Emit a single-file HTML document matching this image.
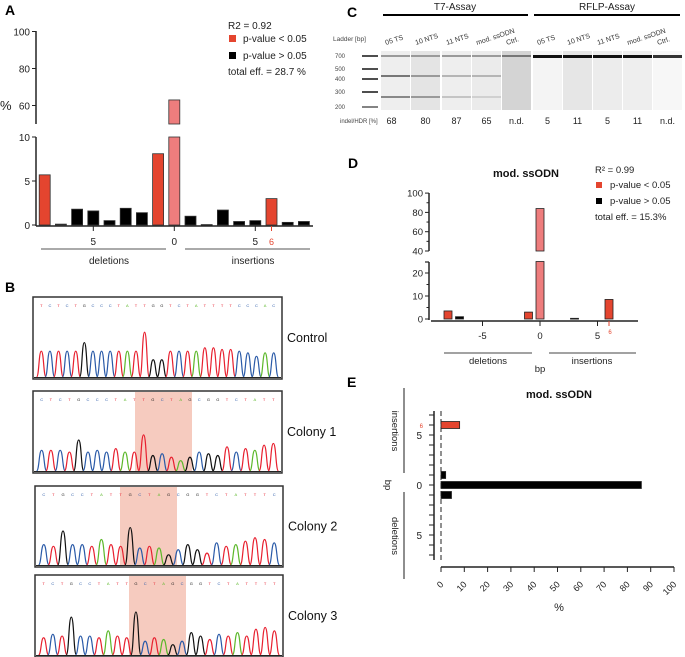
<!DOCTYPE html>
<html><head><meta charset="utf-8"><style>
body{margin:0;background:#fff}
svg{font-family:"Liberation Sans",Arial,sans-serif;display:block}
</style></head><body>
<svg id="s" width="685" height="657" viewBox="0 0 685 657" xmlns="http://www.w3.org/2000/svg">
<g id="gA"></g>
<g id="gB"></g>
<g id="gC"></g>
<g id="gD"></g>
<g id="gE"></g>
</svg>
<script>
// ---- Panel A data ----
const aCats = [-8,-7,-6,-5,-4,-3,-2,-1,0,1,2,3,4,5,6,7,8];
const aVals = [5.7,0.1,1.8,1.6,0.5,1.9,1.4,8.1,63,1.0,0.05,1.7,0.4,0.5,3.0,0.3,0.4];
const aSig  = ['r','k','k','k','k','k','k','r','p','k','k','k','k','k','r','k','k'];
const aTicksLow = [0,5,10];
const aTicksHigh = [60,80,100];
// ---- Panel C data ----
const cLanes = ['05 TS','10 NTS','11 NTS','mod. ssODN','Ctrl.','05 TS','10 NTS','11 NTS','mod. ssODN','Ctrl.'];
const cVals = ['68','80','87','65','n.d.','5','11','5','11','n.d.'];
const cLadder = [700,500,400,300,200];
// ---- Panel D data ----
const dCats = [-8,-7,-1,0,3,6];
const dVals = [3.5,1,3,84,0.3,8.5];
const dSig = ['r','k','r','p','k','r'];
const dTicksLow = [0,10,20];
const dTicksHigh = [40,60,80,100];
const dXTicks = [-5,0,5];
// ---- Panel E data ----
const eCats = [6,1,0,-1];
const eVals = [8,2,86,4.5];
const eSig = ['r','k','k','k'];
const eXTicks = [0,10,20,30,40,50,60,70,80,90,100];

const NS='http://www.w3.org/2000/svg';
const COL={r:'#e4452f',k:'#000',p:'#ee7d7d'};
function el(p,tag,at,txt){const e=document.createElementNS(NS,tag);for(const k in at)e.setAttribute(k,at[k]);if(txt!==undefined)e.textContent=txt;p.appendChild(e);return e;}
function T(p,x,y,s,size,extra){const t=el(p,'text',Object.assign({x:x,y:y,'font-size':size||10,fill:'#222'},extra||{}),s);return t;}
function L(p,x1,y1,x2,y2,w,c){return el(p,'line',{x1,y1,x2,y2,stroke:c||'#222','stroke-width':w||1});}

// ================= Panel A =================
(function(){
const g=document.getElementById('gA');
let t=T(g,5,15,'A',14,{'font-weight':'bold',fill:'#000'});

const yLo=v=>225-v*8.8;
const yHi=v=>124-(v-50)*1.85;
const xA=c=>174.3+c*16.2;
const ax=36;
let a=L(g,ax,137,ax,226,1.5);
a=L(g,ax,31,ax,124,1.5);
aTicksLow.forEach(v=>{L(g,ax-4,yLo(v),ax,yLo(v));const tt=T(g,ax-6,yLo(v)+4,String(v),10,{'text-anchor':'end'});});
aTicksHigh.forEach(v=>{L(g,ax-4,yHi(v),ax,yHi(v));const tt=T(g,ax-6,yHi(v)+4,String(v),10,{'text-anchor':'end'});});
t=T(g,0,110,'%',13);
aCats.forEach((c,i)=>{
  const v=aVals[i],x=xA(c)-5.5,w=11;
  if(v>10){
    const r1=el(g,'rect',{x:x,y:yLo(10),width:w,height:yLo(0)-yLo(10),fill:COL[aSig[i]],stroke:'#333','stroke-width':0.8});
    
    const r2=el(g,'rect',{x:x,y:yHi(v),width:w,height:yHi(50)-yHi(v),fill:COL[aSig[i]],stroke:'#333','stroke-width':0.8});
    
  } else {
    const r=el(g,'rect',{x:x,y:yLo(v),width:w,height:Math.max(yLo(0)-yLo(v),0.6),fill:COL[aSig[i]],stroke:'#333','stroke-width':0.8});
    
  }
});
a=L(g,ax,226,313,226,1.5);
[[-5,'5','#222'],[0,'0','#222'],[5,'5','#222'],[6,'6','#e4452f']].forEach(([c,s,col])=>{L(g,xA(c),226,xA(c),231,1,col);const tt=T(g,xA(c),245,s,c===6?9:10,{'text-anchor':'middle',fill:col});});
L(g,41,249,166,249,1,'#555');L(g,185,249,310,249,1,'#555');
t=T(g,109,264,'deletions',10,{'text-anchor':'middle'});
t=T(g,253,264,'insertions',10,{'text-anchor':'middle'});
const lg=el(g,'g',{});
T(lg,228,29,'R2 = 0.92',10);
el(lg,'rect',{x:229,y:35,width:7,height:7,fill:COL.r});T(lg,243,42,'p-value < 0.05',10);
el(lg,'rect',{x:229,y:52,width:7,height:7,fill:'#000'});T(lg,243,59,'p-value > 0.05',10);
T(lg,228,75,'total eff. = 28.7 %',10);
})();

// ================= Panel B =================
(function(){
const g=document.getElementById('gB');
let t=T(g,5,292,'B',14,{'font-weight':'bold',fill:'#000'});
const seqC={T:'#e8202f',C:'#2a5aa8',G:'#111',A:'#5cb82a'};
const boxes=[
 {name:'control',label:'Control',x:33,y:297,w:249,h:82,hl:null,seq:'TCTCTGCCCTATTGGTCTATTTTCCCACC',pk:[.75,.75,.75,.75,.75,1,.75,.75,.75,.75,.75,.75,1.3,.5,.5,.75,.75,.75,.75,.85,.85,.8,.8,.75,.7,.6,.7,.7]},
 {name:'colony-1',label:'Colony 1',x:33,y:391,w:249,h:82,hl:[135,192],seq:'CTCTGCCCTATTGCTAGCGGTCTATTT',pk:[.6,.6,.6,.55,.9,.55,.6,.55,.65,.55,.55,1.05,.45,.5,.4,.3,.4,.55,.5,.45,.7,.55,.65,.6,.75,.8]},
 {name:'colony-2',label:'Colony 2',x:35,y:486,w:248,h:81,hl:[120,177],seq:'CTGCCTATTGCTAGCGGTCTATTTC',pk:[.6,.55,1,.6,.6,.55,.75,.6,.55,1.1,.5,.55,.5,.3,.45,.6,.45,.35,.65,.55,.6,.7,.8,.75,.65]},
 {name:'colony-3',label:'Colony 3',x:35,y:575,w:248,h:82,hl:[129,186],seq:'TCTGCCTATTGCTAGCGGTCTATTTT',pk:[.5,.6,.55,1.1,.55,.55,.5,.7,.55,.5,1.25,.4,.5,.45,.3,.4,.65,.55,.45,.6,.55,.65,.55,.75,.8,.7]}
];
boxes.forEach(b=>{
  const gg=el(g,'g',{});
  el(gg,'rect',{x:b.x,y:b.y,width:b.w,height:b.h,fill:'#fff',stroke:'#333','stroke-width':1.5});
  if(b.hl){const h=el(gg,'rect',{x:b.hl[0],y:b.y+1,width:b.hl[1]-b.hl[0],height:b.h-2,fill:'#f6cbbf'});}
  const n=b.pk.length,step=(b.w-8)/n;
  for(let i=0;i<n;i++){
    const ch=b.seq[i%b.seq.length];
    const cx=b.x+4+step*(i+0.5),base=b.y+b.h-2,hh=b.pk[i]*(b.h*0.42);
    el(gg,'path',{d:`M${cx-step*0.55},${base} C${cx-step*0.25},${base} ${cx-step*0.3},${base-hh} ${cx},${base-hh} S${cx+step*0.25},${base} ${cx+step*0.55},${base}`,fill:'none',stroke:seqC[ch],'stroke-width':1.2});
    T(gg,cx,b.y+10,ch,4,{'text-anchor':'middle',fill:seqC[ch]});
  }
  L(gg,b.x+1,b.y+b.h-1.5,b.x+b.w-1,b.y+b.h-1.5,1,'#222');
  const lt=T(g,b.x+b.w+5,b.y+b.h/2+4,b.label,12.5,{fill:'#111'});
});
})();

// ================= Panel C =================
(function(){
const g=document.getElementById('gC');
let t=T(g,347,17,'C',14,{'font-weight':'bold',fill:'#000'});
t=T(g,455,10,'T7-Assay',10,{'text-anchor':'middle'});
L(g,383,15,528,15,2,'#000');
t=T(g,607,10,'RFLP-Assay',10,{'text-anchor':'middle'});
L(g,534,15,680,15,2,'#000');
t=T(g,333,41,'Ladder [bp]',6.5,{fill:'#444'});
const ly=[56,69,79,92,107];
cLadder.forEach((v,i)=>{T(g,335,ly[i]+2,String(v),6,{fill:'#444'});L(g,362,ly[i],378,ly[i],1.6,i===4?'#666':'#222');});
const lx=[381,411,442,472,502,533,563,593,623,653],lw=29;
const bg=['#eeeeee','#e4e4e4','#eeeeee','#ebebeb','#d4d4d4','#f4f4f4','#e6e6e6','#ececec','#eeeeee','#f7f7f7'];
cLanes.forEach((n,i)=>{
  const lg=el(g,'g',{});
  el(lg,'rect',{x:lx[i],y:51,width:lw,height:59,fill:bg[i]});
  if(i<5){
    el(lg,'rect',{x:lx[i],y:55,width:lw,height:2,fill:i===4?'#777':'#9a9a9a'});
    if(i<4){el(lg,'rect',{x:lx[i],y:75,width:lw,height:2,fill:['#777','#999','#b5b5b5','#b5b5b5'][i]});el(lg,'rect',{x:lx[i],y:96,width:lw,height:2,fill:['#888','#999','#c4c4c4','#d0d0d0'][i]});}
  } else {
    el(lg,'rect',{x:lx[i],y:55,width:lw,height:3,fill:i===9?'#333':'#111'});
  }
  const tl=T(g,lx[i]+5,45,n,7,{transform:`rotate(-18 ${lx[i]+5} 45)`,fill:'#333'});
  const vl=T(g,lx[i]+lw/2-(i===0?4:0),124,cVals[i],9,{'text-anchor':'middle',fill:'#222'});
});
t=T(g,340,123,'indel/HDR [%]',6,{fill:'#444'});
})();

// ================= Panel D =================
(function(){
const g=document.getElementById('gD');
let t=T(g,348,168,'D',14,{'font-weight':'bold',fill:'#000'});
t=T(g,526,177,'mod. ssODN',11,{'text-anchor':'middle','font-weight':'bold',fill:'#111'});
const yLo=v=>319-v*2.3;
const yHi=v=>251-(v-40)*0.965;
const xD=c=>540+c*11.5;
const ax=429;
let a=L(g,ax,262,ax,320,1.5);
L(g,ax-4,262,ax,262,1.2);
a=L(g,ax,193,ax,251,1.5);
[5,15].forEach(v=>L(g,ax-2.5,yLo(v),ax,yLo(v)));[50,70,90].forEach(v=>L(g,ax-2.5,yHi(v),ax,yHi(v)));
dTicksLow.forEach(v=>{L(g,ax-4,yLo(v),ax,yLo(v));const tt=T(g,ax-6,yLo(v)+3.5,String(v),9.5,{'text-anchor':'end'});});
dTicksHigh.forEach(v=>{L(g,ax-4,yHi(v),ax,yHi(v));const tt=T(g,ax-6,yHi(v)+3.5,String(v),9.5,{'text-anchor':'end'});});
dCats.forEach((c,i)=>{
  const v=dVals[i],x=xD(c)-4,w=8;
  if(v>25){
    const r1=el(g,'rect',{x,y:yLo(25),width:w,height:yLo(0)-yLo(25),fill:COL[dSig[i]],stroke:'#222','stroke-width':0.8});
    
    const r2=el(g,'rect',{x,y:yHi(v),width:w,height:yHi(40)-yHi(v),fill:COL[dSig[i]],stroke:'#222','stroke-width':0.8});
    
  } else {
    const r=el(g,'rect',{x,y:yLo(v),width:w,height:Math.max(yLo(0)-yLo(v),0.8),fill:COL[dSig[i]],stroke:'#222','stroke-width':0.8});
    
  }
});
a=L(g,431,321,638,321,1.5);
dXTicks.forEach(c=>{L(g,xD(c),321,xD(c),326);const tt=T(g,xD(c),339,String(c),9.5,{'text-anchor':'middle'});});
L(g,xD(6),321,xD(6),326,1,'#e4452f');T(g,xD(6)+1,334,'6',6,{'text-anchor':'middle',fill:'#e4452f'});
L(g,444,353,532,353,1,'#444');L(g,549,353,636,353,1,'#444');
t=T(g,488,364,'deletions',9.5,{'text-anchor':'middle'});
t=T(g,592,364,'insertions',9.5,{'text-anchor':'middle'});
t=T(g,540,372,'bp',9.5,{'text-anchor':'middle'});
const lg=el(g,'g',{});
T(lg,595,173,'R² = 0.99',9.5);
el(lg,'rect',{x:596,y:182,width:6,height:6,fill:COL.r});T(lg,610,188,'p-value < 0.05',9.5);
el(lg,'rect',{x:596,y:198,width:6,height:6,fill:'#000'});T(lg,610,204,'p-value > 0.05',9.5);
T(lg,595,220,'total eff. = 15.3%',9.5);
})();

// ================= Panel E =================
(function(){
const g=document.getElementById('gE');
let t=T(g,347,387,'E',14,{'font-weight':'bold',fill:'#000'});
t=T(g,559,398,'mod. ssODN',11,{'text-anchor':'middle','font-weight':'bold',fill:'#111'});
const yE=c=>485-c*10;
const xE=v=>441+v*2.33;
let a=L(g,434,411,434,560,1.5);
for(let c=7;c>=-7;c--){L(g,429,yE(c),434,yE(c));}
[[5,'5'],[0,'0'],[-5,'5']].forEach(([c,s])=>{const tt=T(g,422,yE(c)+4,s,10,{'text-anchor':'end'});});
T(g,423,428,'6',6,{'text-anchor':'end',fill:'#e4452f'});
el(g,'line',{x1:441,y1:411,x2:441,y2:560,stroke:'#222','stroke-width':1,'stroke-dasharray':'5,3'});
eCats.forEach((c,i)=>{
  const r=el(g,'rect',{x:xE(0),y:yE(c)-3.5,width:xE(eVals[i])-xE(0),height:7,fill:COL[eSig[i]],stroke:'#222','stroke-width':0.8});
  
});
a=L(g,441,567,674,567,1.5);
eXTicks.forEach(v=>{L(g,xE(v),567,xE(v),572);const tt=T(g,xE(v)+3,585,String(v),9,{'text-anchor':'end',transform:`rotate(-45 ${xE(v)+3} 585)`});});
t=T(g,559,611,'%',11,{'text-anchor':'middle'});
L(g,404,388,404,473,1.2,'#444');L(g,404,492,404,579,1.2,'#444');
t=T(g,392,431,'insertions',9.5,{'text-anchor':'middle',transform:'rotate(90 392 431)'});
t=T(g,392,536,'deletions',9.5,{'text-anchor':'middle',transform:'rotate(90 392 536)'});
t=T(g,385,485,'bp',9.5,{'text-anchor':'middle',transform:'rotate(90 385 485)'});
})();
</script>
</body></html>
